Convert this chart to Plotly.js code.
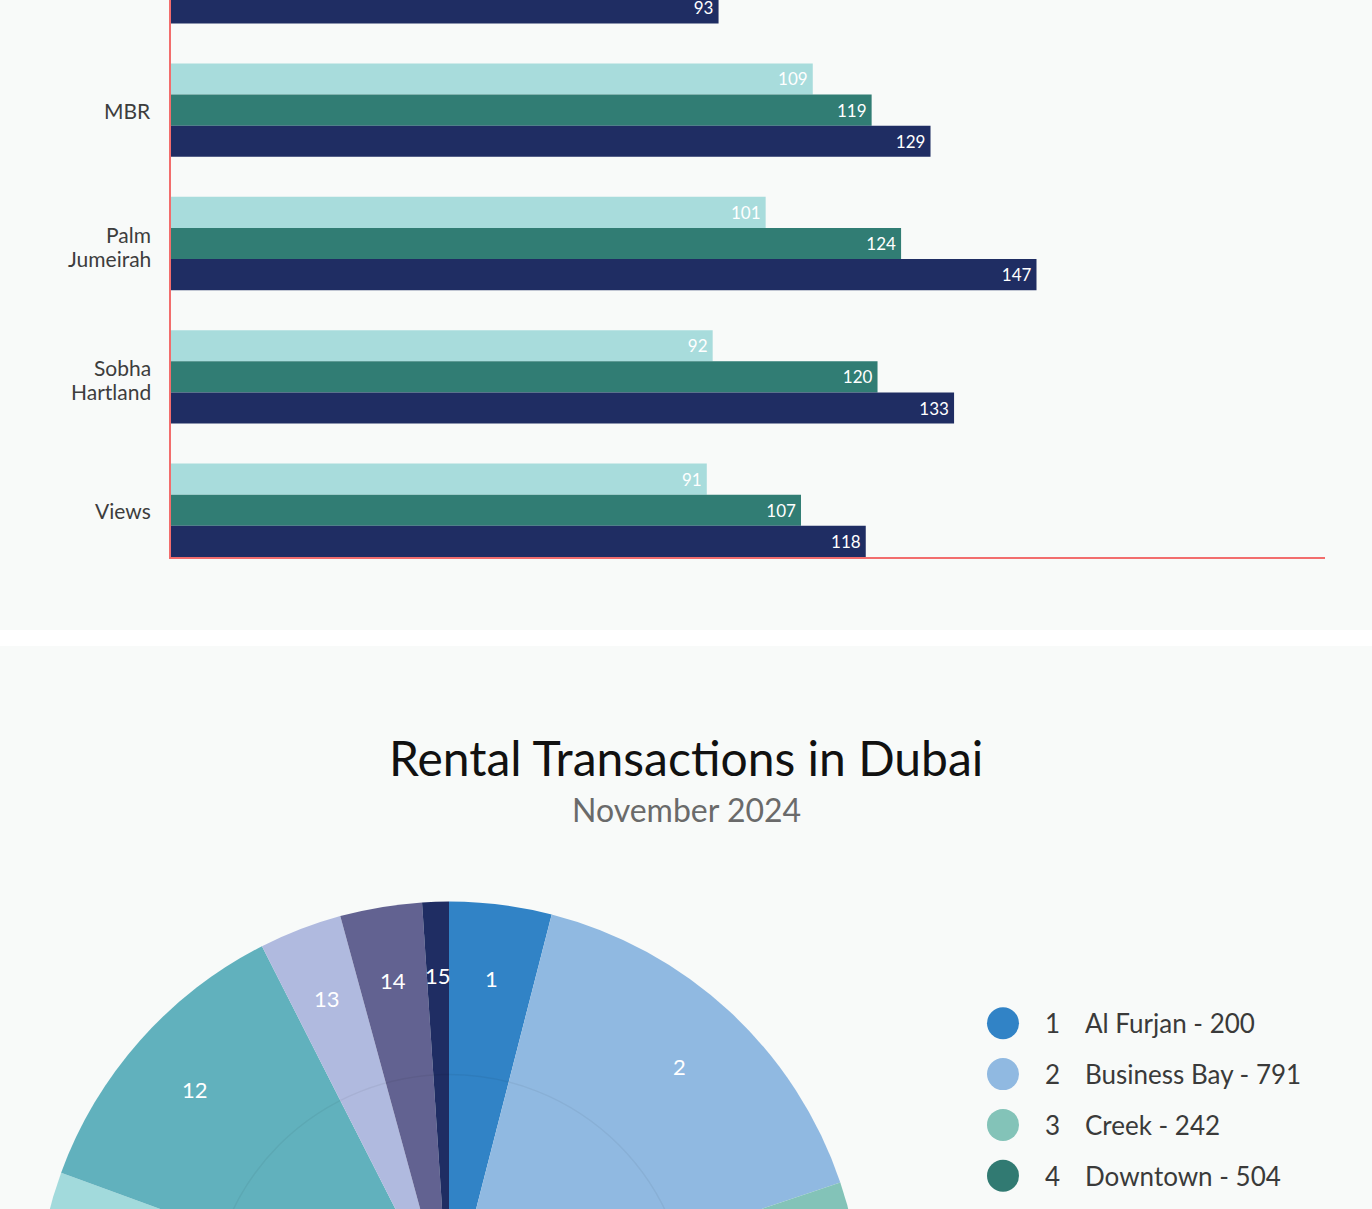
<!DOCTYPE html>
<html><head><meta charset="utf-8">
<script src="https://cdn.plot.ly/plotly-3.0.1.min.js"></script>
<style>
html,body{margin:0;padding:0;overflow:hidden;background:#ffffff;width:1372px;height:1209px;}
#bars{position:absolute;left:0;top:-100px;width:1372px;height:730px;}
#pie{position:absolute;left:0;top:646px;width:1372px;height:1100px;}
</style></head><body>
<div id="bars"></div><div id="pie"></div>
<script>
// ---------- bar chart data ----------
const areas = ['JVC', 'MBR', 'Palm Jumeirah', 'Sobha Hartland', 'Views'];
const areaLabelLines = [['JVC'], ['MBR'], ['Palm', 'Jumeirah'], ['Sobha', 'Hartland'], ['Views']];
const seriesNames = ['2022', '2023', '2024'];
const rent2022 = [78, 109, 101, 92, 91];
const rent2023 = [86, 119, 124, 120, 107];
const rent2024 = [93, 129, 147, 133, 118];
const barColors = ['#a8dcdc', '#317d74', '#1f2d63'];

// ---------- pie chart data ----------
const pieNumbers = [1, 2, 3, 4, 5, 6, 7, 8, 9, 10, 11, 12, 13, 14, 15];
const pieAreas = ['Al Furjan', 'Business Bay', 'Creek', 'Downtown', 'Dubai Hills', 'Dubai Marina',
  'Dubai South', 'Emaar Beachfront', 'JBR', 'JLT', 'Jumeirah Golf Estates', 'JVC', 'MBR',
  'Palm Jumeirah', 'Sobha Hartland'];
const pieValues = [200, 791, 242, 504, 396, 512, 148, 231, 389, 304, 312, 597, 162, 160, 52];
const pieColors = ['#3183c6', '#90b9e1', '#83c3b8', '#317a72', '#5c9bd1', '#2a5f8f', '#9fd3c7',
  '#4aa39a', '#c3d7ee', '#1d4e6b', '#a2dadc', '#61b1bd', '#b0badf', '#626291', '#1f2d63'];

const FONT = 'Lato, "Open Sans", sans-serif';
const BG = '#f8faf9';
const AXIS_RED = '#f26d6d';

// ---------- bar chart ----------
const seriesValues = [rent2022, rent2023, rent2024];
const barTraces = seriesValues.map((vals, i) => ({
  type: 'bar', orientation: 'h', name: seriesNames[i],
  y: areas, x: vals,
  marker: {color: barColors[i], line: {width: 0}},
  texttemplate: '%{x}\u2009', textposition: 'inside', insidetextanchor: 'end',
  textangle: 0, constraintext: 'none',
  textfont: {family: FONT, size: 17, color: '#ffffff'},
  hoverinfo: 'x+name'
}));

const barAnnotations = [];
areas.forEach((a, i) => {
  const lines = areaLabelLines[i];
  const shifts = lines.length === 1 ? [0] : [9.5, -14.5];
  lines.forEach((ln, j) => {
    barAnnotations.push({xref: 'paper', yref: 'y', x: 0, y: a, xanchor: 'right', yanchor: 'middle',
      xshift: -18, yshift: shifts[j], showarrow: false, text: ln,
      font: {family: FONT, size: 21, color: '#3d3d3d'}});
  });
});

Plotly.newPlot('bars', barTraces, {
  width: 1372, height: 730,
  margin: {l: 171, r: 47, t: 10, b: 73},
  paper_bgcolor: BG, plot_bgcolor: BG,
  barmode: 'group', bargap: 0.3, bargroupgap: 0,
  showlegend: false,
  annotations: barAnnotations,
  xaxis: {range: [0, 196], showgrid: false, zeroline: false, showticklabels: false,
    ticks: '', showline: true, linecolor: AXIS_RED, linewidth: 2},
  yaxis: {type: 'category', range: [4.35, -0.5], autorange: false, showgrid: false,
    zeroline: false, ticks: '', showline: true, linecolor: AXIS_RED, linewidth: 2,
    showticklabels: false}
}, {staticPlot: true});

// ---------- pie chart ----------
const W = 1372, H = 1100;
const CX = 449, CY = 668.5, R = 413;
const px = x => x / W;
const py = y => 1 - y / H;

const annotations = [];
const shapes = [];

annotations.push({xref: 'paper', yref: 'paper', x: 0.5, y: py(111), xanchor: 'center', yanchor: 'middle',
  text: 'Rental Transactions in Dubai', showarrow: false,
  font: {family: FONT, size: 48, color: '#111111'}});
annotations.push({xref: 'paper', yref: 'paper', x: 0.5, y: py(163), xanchor: 'center', yanchor: 'middle',
  text: 'November 2024', showarrow: false,
  font: {family: FONT, size: 32, color: '#6a6a6a'}});

// slice number labels
const total = pieValues.reduce((a, b) => a + b, 0);
let cum = 0;
pieValues.forEach((v, i) => {
  const mid = (cum + v / 2) / total * 2 * Math.PI;
  cum += v;
  const rr = 0.821 * R;
  annotations.push({xref: 'paper', yref: 'paper',
    x: px(CX + rr * Math.sin(mid)), y: py(CY - rr * Math.cos(mid)),
    xanchor: 'center', yanchor: 'middle', showarrow: false,
    text: String(pieNumbers[i]),
    font: {family: FONT, size: 22, color: '#ffffff'}});
});

// custom legend
pieAreas.forEach((name, i) => {
  const yc = 377.3 + 50.8 * i;
  shapes.push({type: 'circle', xref: 'paper', yref: 'paper',
    x0: px(987), x1: px(1019), y0: py(yc + 16), y1: py(yc - 16),
    fillcolor: pieColors[i], line: {width: 0}});
  annotations.push({xref: 'paper', yref: 'paper', x: px(1043), y: py(yc),
    xanchor: 'left', yanchor: 'middle', showarrow: false, text: String(pieNumbers[i]),
    font: {family: FONT, size: 26, color: '#3a3a3a'}});
  annotations.push({xref: 'paper', yref: 'paper', x: px(1083), y: py(yc),
    xanchor: 'left', yanchor: 'middle', showarrow: false, text: name + ' - ' + pieValues[i],
    font: {family: FONT, size: 26, color: '#3a3a3a'}});
});

// faint inner ring
shapes.push({type: 'circle', xref: 'paper', yref: 'paper', layer: 'above',
  x0: px(CX - 240), x1: px(CX + 240), y0: py(CY + 240), y1: py(CY - 240),
  line: {color: 'rgba(0,0,0,0.05)', width: 1.5}, fillcolor: 'rgba(0,0,0,0)'});

Plotly.newPlot('pie', [{
  type: 'pie', labels: pieAreas, values: pieValues, sort: false,
  direction: 'clockwise', rotation: 0, textinfo: 'none',
  marker: {colors: pieColors, line: {width: 0}},
  domain: {x: [px(CX - R), px(CX + R)], y: [py(CY + R), py(CY - R)]},
  showlegend: false, hoverinfo: 'label+value'
}], {
  width: W, height: H, margin: {l: 0, r: 0, t: 0, b: 0},
  paper_bgcolor: BG, plot_bgcolor: BG,
  annotations: annotations, shapes: shapes
}, {staticPlot: true});
</script>
</body></html>
